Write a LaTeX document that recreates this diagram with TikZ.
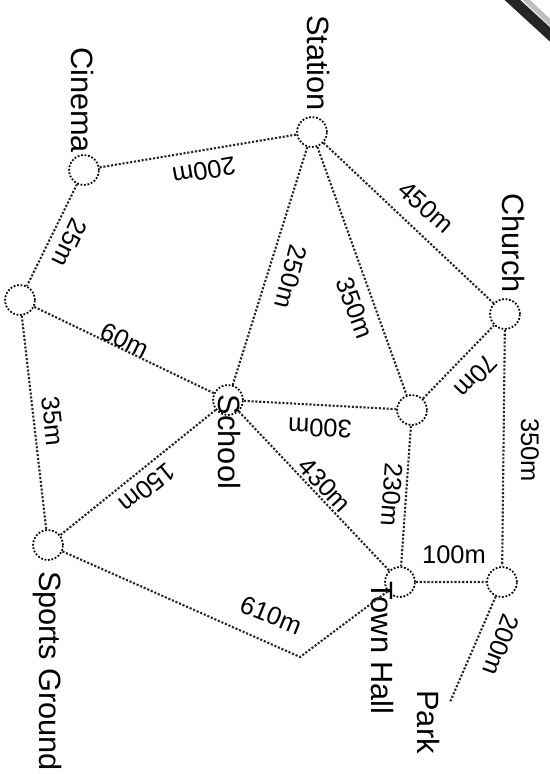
\documentclass[tikz,border=0pt]{standalone}
\usepackage{fontspec}
\setmainfont{Liberation Sans}
\usepackage{tikz}
\usetikzlibrary{positioning}
\tikzset{
  place/.style={circle,draw,densely dotted,line width=1pt,minimum size=17pt,inner sep=0pt},
  road/.style={densely dotted,line width=1.2pt,black!85},
  placename/.style={font=\fontsize{17.5}{20}\selectfont,inner sep=0pt,rotate=-90},
  dist/.style={font=\fontsize{14.5}{17}\selectfont,inner sep=0pt},
}

\begin{document}
\begin{tikzpicture}[x=0.02cm,y=-0.02cm]
        \useasboundingbox (0,0) rectangle (550,774);

        \node[place] (station) at (312,132) {};
        \node[place] (cinema) at (84,170) {};
        \node[place] (corner) at (20,300) {};
        \node[place] (school) at (228,400) {};
        \node[place] (sports) at (48,545) {};
        \node[place] (cross) at (412,410) {};
        \node[place] (church) at (505,314) {};
        \node[place] (townhall) at (400,582) {};
        \node[place] (fork) at (502,582) {};
        \coordinate (park) at (450,702);
        \coordinate (bend) at (300,657);

        \node[placename] (stationname) at (318,63) {Station};
        \node[placename] (cinemaname) at (82,100) {Cinema};
        \node[placename] (churchname) at (513,243) {Church};
        \node[placename] (schoolname) at (229,442) {School};
        \node[placename] (sportsname) at (47,671) {Sports Ground};
        \node[placename] (townhallname) at (382,648) {Town Hall};
        \node[placename] (parkname) at (428,722) {Park};

        \draw[road] (cinema) -- (station) -- (church) -- (fork) -- (park);
        \draw[road] (station) -- (school);
        \draw[road] (station) -- (cross);
        \draw[road] (cinema) -- (corner) -- (sports);
        \draw[road] (corner) -- (school) -- (sports);
        \draw[road] (school) -- (cross) -- (church);
        \draw[road] (school) -- (townhall);
        \draw[road] (cross) -- (townhall) -- (fork);
        \draw[road] (sports) -- (bend) -- (townhall);

        \node[dist,rotate=190] (l200a) at (204,171) {200m};
        \node[dist,rotate=-42] (l450) at (426,207) {450m};
        \node[dist,rotate=-104] (l250) at (291,277) {250m};
        \node[dist,rotate=-70] (l350a) at (355,308) {350m};
        \node[dist,rotate=-116] (l25) at (70,243) {25m};
        \node[dist,rotate=-26] (l60) at (125,340) {60m};
        \node[dist,rotate=-84] (l35) at (53,421) {35m};
        \node[dist,rotate=-141] (l150) at (147,488) {150m};
        \node[dist,rotate=178] (l300) at (320,428) {300m};
        \node[dist,rotate=-47] (l430) at (325,485) {430m};
        \node[dist,rotate=-134] (l70) at (476,376) {70m};
        \node[dist,rotate=-94] (l230) at (392,495) {230m};
        \node[dist,rotate=-90] (l350b) at (530,450) {350m};
        \node[dist] (l100) at (454,555) {100m};
        \node[dist,rotate=-110] (l200b) at (501,645) {200m};
        \node[dist,rotate=-22] (l610) at (271,615) {610m};

        % torn corner of the scan
        \draw[line width=6pt,black!85] (508,-4) -- (556,40);
        \draw[line width=3pt,black!25] (520,-6) -- (560,32);
    \end{tikzpicture}
\end{document}
